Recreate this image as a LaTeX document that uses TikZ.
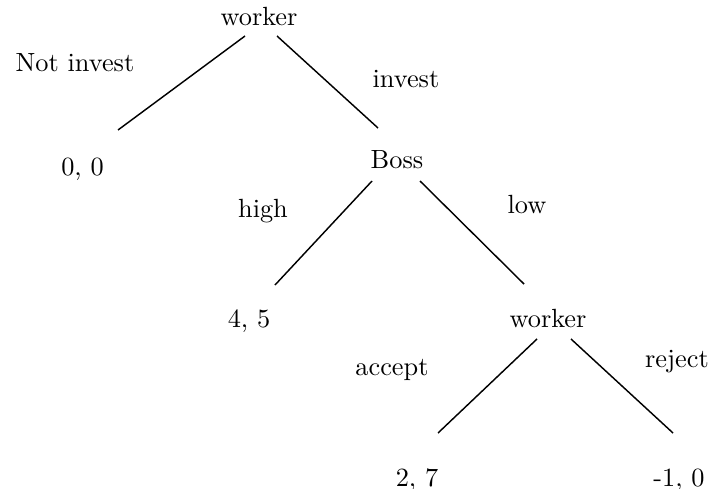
\documentclass[tikz,border=0pt]{standalone}
\begin{document}
\begin{tikzpicture}[x=0.38pt,y=-0.38pt,
  lbl/.style={anchor=base,inner sep=0pt,font=\normalsize},
  branch/.style={line width=0.55pt}]
\useasboundingbox (0,0) rectangle (713,488);
% labels
\node[lbl] (w1) at (259,25) {worker};
\node[lbl] (ni) at (75,72) {Not invest};
\node[lbl] (inv) at (406,87) {invest};
\node[lbl] (p00) at (82.5,175) {0, 0};
\node[lbl] (boss) at (397,168) {Boss};
\node[lbl] (high) at (263,217) {high};
\node[lbl] (low) at (527,213) {low};
\node[lbl] (p45) at (249,327) {4, 5};
\node[lbl] (w2) at (548,327) {worker};
\node[lbl] (acc) at (392,375) {accept};
\node[lbl] (rej) at (677,367) {reject};
\node[lbl] (p27) at (417,486) {2, 7};
\node[lbl] (pm10) at (679,486) {-1, 0};
% branch end points
\coordinate (a1) at (245,36);  \coordinate (a2) at (118,130);
\coordinate (b1) at (277,36);  \coordinate (b2) at (378,128);
\coordinate (c1) at (372,181); \coordinate (c2) at (275,285);
\coordinate (d1) at (420,181); \coordinate (d2) at (524,284);
\coordinate (e1) at (537,339); \coordinate (e2) at (438,433);
\coordinate (f1) at (571,339); \coordinate (f2) at (673,433);
\draw[branch] (a1) -- (a2);
\draw[branch] (b1) -- (b2);
\draw[branch] (c1) -- (c2);
\draw[branch] (d1) -- (d2);
\draw[branch] (e1) -- (e2);
\draw[branch] (f1) -- (f2);
\end{tikzpicture}
\end{document}
